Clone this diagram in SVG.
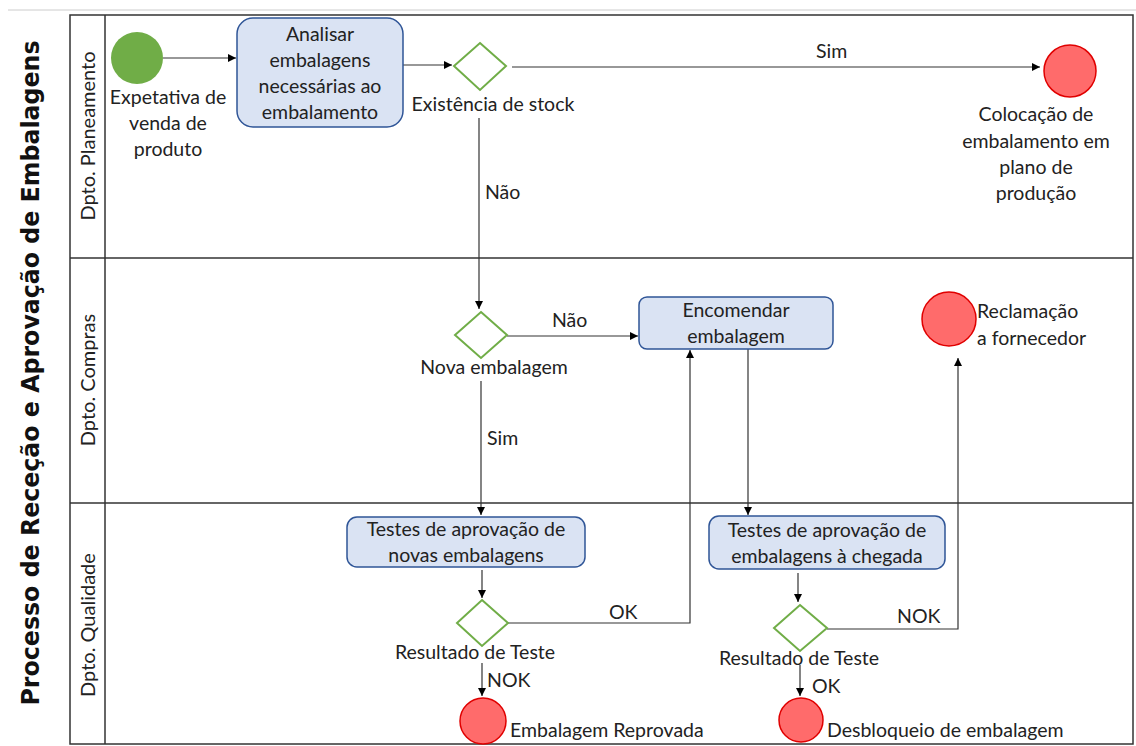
<svg xmlns="http://www.w3.org/2000/svg" width="1136" height="746" viewBox="0 0 1136 746">
<defs>
<marker id="arr" viewBox="0 0 10 10" refX="10" refY="5" markerWidth="8" markerHeight="8" markerUnits="userSpaceOnUse" orient="auto">
<path d="M0,0 L10,5 L0,10 z" fill="#000"/>
</marker>
<style>
.t{font-family:Lato,"Open Sans","Liberation Sans",sans-serif;font-size:19.5px;fill:#222;}
.c{text-anchor:middle;}
.lane{font-family:Lato,"Open Sans","Liberation Sans",sans-serif;font-size:20px;fill:#222;text-anchor:middle;}
.title{font-family:"DejaVu Sans","Liberation Sans",sans-serif;font-size:25px;font-weight:bold;fill:#111;text-anchor:middle;}
.task{fill:#DAE3F3;stroke:#2F5597;stroke-width:1.5;}
.gw{fill:#fff;stroke:#70AD47;stroke-width:2;}
.end{fill:#FF6B6B;stroke:#E00000;stroke-width:1.5;}
.start{fill:#70AD47;}
.ln{fill:none;stroke:#333;stroke-width:1.2;}
.pool{fill:none;stroke:#333;stroke-width:1.5;}
</style>
</defs>
<rect width="1136" height="746" fill="#fff"/>
<line x1="8" y1="10" x2="1136" y2="10" stroke="#ccc" stroke-width="1"/>
<g id="pool">
<rect class="pool" x="70" y="15" width="1063" height="729"/>
<line class="pool" x1="105" y1="15" x2="105" y2="744"/>
<line class="pool" x1="70" y1="258" x2="1133" y2="258"/>
<line class="pool" x1="70" y1="503" x2="1133" y2="503"/>
<text class="title" transform="translate(39,373) rotate(-90)" textLength="665" lengthAdjust="spacingAndGlyphs">Processo de Receção e Aprovação de Embalagens</text>
<text class="lane" transform="translate(95,136) rotate(-90)">Dpto. Planeamento</text>
<text class="lane" transform="translate(95,380) rotate(-90)">Dpto. Compras</text>
<text class="lane" transform="translate(95,625) rotate(-90)">Dpto. Qualidade</text>
</g>
<g id="connectors">
<line class="ln" x1="163" y1="58" x2="236" y2="58" marker-end="url(#arr)"/>
<line class="ln" x1="403" y1="65" x2="452" y2="65" marker-end="url(#arr)"/>
<line class="ln" x1="512" y1="67" x2="1040" y2="67" marker-end="url(#arr)"/>
<text class="t" x="816" y="58">Sim</text>
<line class="ln" x1="479" y1="118" x2="479" y2="309" marker-end="url(#arr)"/>
<text class="t" x="485" y="199">Não</text>
<line class="ln" x1="507" y1="336" x2="638" y2="336" marker-end="url(#arr)"/>
<text class="t" x="552" y="327">Não</text>
<line class="ln" x1="481" y1="381" x2="481" y2="515" marker-end="url(#arr)"/>
<text class="t" x="487" y="445">Sim</text>
<line class="ln" x1="748" y1="349" x2="748" y2="515" marker-end="url(#arr)"/>
<line class="ln" x1="482" y1="570" x2="482" y2="598" marker-end="url(#arr)"/>
<polyline class="ln" points="508,623 690,623 690,350" marker-end="url(#arr)"/>
<text class="t" x="609" y="619">OK</text>
<line class="ln" x1="482" y1="663" x2="482" y2="696" marker-end="url(#arr)"/>
<text class="t" x="487" y="687">NOK</text>
<line class="ln" x1="798" y1="573" x2="798" y2="602" marker-end="url(#arr)"/>
<polyline class="ln" points="827,629 958,629 958,358" marker-end="url(#arr)"/>
<text class="t" x="897" y="623">NOK</text>
<line class="ln" x1="800" y1="665" x2="800" y2="696" marker-end="url(#arr)"/>
<text class="t" x="812" y="693">OK</text>
</g>
<g id="start">
<circle class="start" cx="137" cy="58" r="26"/>
<text class="t c" x="168" y="104">Expetativa de</text>
<text class="t c" x="168" y="130">venda de</text>
<text class="t c" x="168" y="156">produto</text>
</g>
<g id="analisar">
<rect class="task" x="237" y="18" width="166" height="109" rx="16"/>
<text class="t c" x="320" y="41">Analisar</text>
<text class="t c" x="320" y="67">embalagens</text>
<text class="t c" x="320" y="93">necessárias ao</text>
<text class="t c" x="320" y="119">embalamento</text>
</g>
<g id="gw-stock">
<polygon class="gw" points="480,43 506,66 480,90 454,66"/>
<text class="t c" x="493" y="111">Existência de stock</text>
</g>
<g id="end-colocacao">
<circle class="end" cx="1070" cy="71" r="26"/>
<text class="t c" x="1036" y="121">Colocação de</text>
<text class="t c" x="1036" y="148">embalamento em</text>
<text class="t c" x="1036" y="174">plano de</text>
<text class="t c" x="1036" y="200">produção</text>
</g>
<g id="gw-nova">
<polygon class="gw" points="481,312 507,335 481,358 455,335"/>
<text class="t c" x="494" y="374">Nova embalagem</text>
</g>
<g id="encomendar">
<rect class="task" x="639" y="297" width="194" height="52" rx="8"/>
<text class="t c" x="736" y="317">Encomendar</text>
<text class="t c" x="736" y="343">embalagem</text>
</g>
<g id="end-reclamacao">
<circle class="end" cx="949" cy="319" r="27"/>
<text class="t" x="977" y="318">Reclamação</text>
<text class="t" x="977" y="345">a fornecedor</text>
</g>
<g id="testes-novas">
<rect class="task" x="347" y="517" width="238" height="50" rx="10"/>
<text class="t c" x="466" y="536">Testes de aprovação de</text>
<text class="t c" x="466" y="562">novas embalagens</text>
</g>
<g id="gw-res1">
<polygon class="gw" points="482,600 508,623 482,646 457,623"/>
<text class="t c" x="475" y="659">Resultado de Teste</text>
</g>
<g id="end-reprovada">
<circle class="end" cx="483" cy="721" r="23"/>
<text class="t" x="510" y="737">Embalagem Reprovada</text>
</g>
<g id="testes-chegada">
<rect class="task" x="709" y="516" width="236" height="53" rx="10"/>
<text class="t c" x="827" y="537">Testes de aprovação de</text>
<text class="t c" x="827" y="563">embalagens à chegada</text>
</g>
<g id="gw-res2">
<polygon class="gw" points="800,605 827,628 800,651 774,628"/>
<text class="t c" x="799" y="665">Resultado de Teste</text>
</g>
<g id="end-desbloqueio">
<circle class="end" cx="801" cy="720" r="22"/>
<text class="t" x="827" y="737">Desbloqueio de embalagem</text>
</g>
</svg>
